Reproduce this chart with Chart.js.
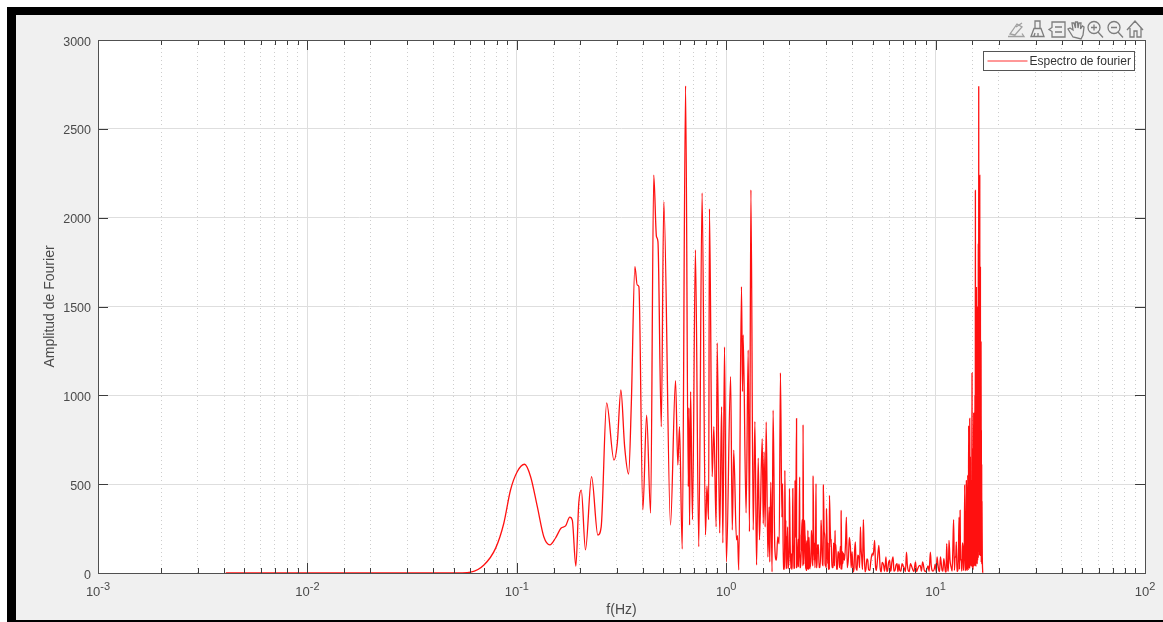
<!DOCTYPE html>
<html>
<head>
<meta charset="utf-8">
<style>
html,body{margin:0;padding:0;width:1163px;height:622px;overflow:hidden;background:#fff}
#frame{position:absolute;left:7px;top:7px;right:0;bottom:0;background:#000}
#panel{position:absolute;left:9px;top:8px;right:0;bottom:2px;background:#f0f0f0}
#wrap{position:absolute;left:0;top:0;width:1163px;height:622px}
#tools{position:absolute;left:0;top:0;pointer-events:none}
</style>
<script src="https://cdn.jsdelivr.net/npm/chart.js@4/dist/chart.umd.js"></script>
</head>
<body>
<div id="frame"><div id="panel"></div></div>
<div id="wrap"><canvas id="c" width="1163" height="622"></canvas></div>
<svg id="tools" width="1163" height="622" fill="none" stroke="#7d7d7d" stroke-width="1.300">
  <g stroke="#a0a0a0"><path d="M1010 34 l7 -10 l5 3 l-7 8 z M1016 27 l6 -4 M1008 36.500 h16 l-2 -3"/></g>
  <path d="M1031 36.500 l3 -8 h7 l3 8 z M1035 28 v-7 h5 v7 M1035 33 l-1 3 M1038 33 v3"/>
  <path d="M1052 22 h13 v15 h-13 v-5.500 l-3 -2 l3 -2 z M1055 27 h7 M1055 32 h7"/>
  <path d="M1073 37 l-5 -8 l2 -1 l3 2 l-1 -7 l2 0 l1.500 5 l0 -6 h2 l0.500 6 l1 -5 l2 0 l-0.500 6 l2 -3 l1.500 1 l-1 8 l-2 4 z"/>
  <circle cx="1094" cy="27.500" r="6"/><path d="M1098 32 l5 5.500 M1091 27.500 h6 M1094 24.500 v6"/>
  <circle cx="1114" cy="27.500" r="6"/><path d="M1118 32 l5 5.500 M1111 27.500 h6"/>
  <path d="M1127 30 l8 -9 l8 9 M1130 28 v9 h4 v-6 h3 v6 h4 v-9"/>
</svg>
<script>
const seriesLabel = 'Espectro de fourier';
const xTitle = 'f(Hz)';
const yTitle = 'Amplitud de Fourier';
const yTickValues = [0, 500, 1000, 1500, 2000, 2500, 3000];
const xDecades = [0.001, 0.01, 0.1, 1, 10, 100];
const xDecadeExponents = ['-3', '-2', '-1', '0', '1', '2'];

// log10 of the frequency in Hz and Fourier amplitude: main peaks and dips
const logFreqHz = [
-2.39,-2.0,-1.6,-1.35,-1.268,-1.22,-1.157,-1.101,-1.062,-1.03,-0.998,-0.963,-0.934,-0.902,-0.871,-0.842,-0.815,-0.788,-0.767,-0.747,-0.735,-0.718,-0.704,-0.692,-0.672,-0.643,-0.613,-0.597,-0.571,-0.536,-0.520,-0.503,-0.485,-0.466,-0.453,-0.436,-0.425,-0.417,-0.398,-0.380,-0.361,-0.346,-0.333,-0.326,-0.310,-0.298,-0.266,-0.242,-0.231,-0.223,-0.210,-0.194,-0.181,-0.178,-0.175,-0.170,-0.161,-0.147,-0.131,-0.115,-0.099,-0.092,-0.084,-0.080,-0.067,-0.059,-0.048,-0.043,-0.031,-0.022,-0.016,-0.008,0.001,0.021,0.029,0.036,0.049,0.054,0.060,0.073,0.078,0.081,0.095,0.105,0.111,0.118,0.129,0.137,0.145,0.153,0.159,
0.172,0.177,0.181,0.186,0.191,0.199,0.205,0.208,0.213,0.219,0.224,0.232,0.240,0.246,0.253,0.259,0.266,0.269,0.280,0.285,0.291,0.302,0.310,0.318,0.323,0.329,0.336,0.345,0.351,0.359,0.367,0.374,0.378,0.383,0.390,0.394,0.399,0.407,0.415,0.421,0.429,0.437,0.445,0.453,0.464,0.472,0.479,0.485,0.493,0.501,0.510,0.520,0.530,0.538,0.549,0.557,0.565,0.574,0.584,0.593,0.606,0.617,0.625,0.633,0.641,0.647,0.655,0.663,0.676,0.686,0.697,0.709,0.717,0.729,0.740,0.752,0.763,0.771,0.781,0.787,0.797,0.806,0.816,0.829,0.840,0.851,0.861,0.869,0.880,0.892,0.904,0.915,0.927,0.938,0.946,0.959,0.975,0.983,0.994,1.007,1.015,1.023,1.031,1.039,1.047,1.053,1.059,1.064,1.074,1.086,1.093,1.099,1.106,1.112,1.117,1.122,1.131,1.136,1.139,
1.144,1.147,1.150,1.153,1.156,1.158,1.160,1.163,1.165,1.166,1.168,1.169,1.171,1.174,1.176,1.177,1.179,1.180,1.182,1.184,1.185,1.187,1.188,1.190,1.191,1.193,1.195,1.196,1.198,1.200,1.201,1.203,1.204,1.206,1.207,1.209,1.211,1.212,1.214,1.215,1.217,1.219,1.220,1.222,1.223,1.225];

const amplitude = [
0,0,0,0,1,5,45,140,280,467,570,612,542,373,204,158,197,253,265,315,298,39,394,467,130,542,214,260,957,636,732,1030,711,557,957,1725,1621,1612,355,889,337,2240,1893,1865,824,2090,270,1083,608,824,135,2742,486,930,270,1021,300,1818,148,2139,214,490,300,2050,542,824,260,1295,225,936,169,1272,63,1105,242,692,186,210,17,1612,1021,1340,338,1255,233,2156,242,852,45,647,186,
756,278,681,259,850,90,372,62,512,6,916,147,72,203,165,1126,315,503,578,297,90,475,109,475,90,522,869,34,541,128,835,297,147,15,240,72,25,240,546,72,503,109,53,297,497,53,362,53,437,147,34,240,53,109,353,53,72,315,90,147,6,175,15,90,259,90,300,6,72,15,109,184,15,156,6,43,90,15,72,15,90,15,53,15,53,25,118,15,53,15,62,25,43,62,15,25,118,15,25,90,15,90,15,81,6,165,15,184,34,300,90,175,15,315,353,72,147,15,494,
60,520,100,550,200,830,120,870,300,650,80,520,150,1126,250,700,60,640,900,180,820,340,1000,2153,300,1600,1610,150,1270,400,1500,200,1850,2739,500,1900,2238,300,1720,250,1300,170,607,300,100,2];

// the tight fine structure between those peaks, read as an estimate from the dense band
const fineLogFreqHz = [
.272,.276,.283,.288,.293,.297,.305,.313,.320,.326,.332,.340,.348,.355,.363,.370,.376,.381,.386,.392,.396,.402,.410,.412,.418,.424,.427,.433,.440,.448,.456,.460,.468,.475,.482,.488,.497,.505,
.513,.517,.524,.527,.534,.541,.545,.552,.560,.570,.578,.588,.597,.601,.610,.613,.620,.628,.637,.644,.651,.659,.667,.672,.680,.690,.702,.713,.722,.735,.745,
.756,.760,.767,.775,.784,.791,.801,.811,.820,.825,.834,.845,.856,.865,.874,.885,.897,.900,.909,.921,.932,.942,.952,.964,.969,.979,.988,.998,1.003,1.011,1.019,1.027,1.035,1.043,1.050,1.056,1.061,1.069,1.079,1.082,1.090,1.096,1.102,1.109,1.114,1.119,1.125,1.128,1.133,
1.1415,1.1425,1.145,1.1455,1.1485,1.1495,1.1515,1.152,1.1545,1.155,1.157,1.159,1.1615,1.1625,1.1645,1.1675,1.170,1.1725,1.173,1.175,1.178,1.1785,1.181,1.183,1.1835,1.186,1.1865,1.1895,1.1905,1.192,1.194,1.1945,1.197,1.1985,1.199,1.2005,1.2025,1.2035,1.205,1.2065,1.208,1.210,1.2105,1.2125,1.213,1.2145,1.216,1.218,1.2185,1.2205,1.2215,
.2745,.2795,.2855,.2905,.2955,.3015,.309,.3165,.3235,.3295,.336,.344,.3515,.359,.3665,.373,.3785,.3835,.389,.3945,.399,.406,.4145,.421,.4305,.4365,.444,.452,.4635,.4715,.4785,.4855,.4925,.501,.509,.5205,.5305,.5375,.5485,.5565,
1.1665,1.1682,1.1695,1.1712,1.1742,1.1757,1.1775,1.1795,1.1808,1.1825,1.1845,1.1858,1.1878,1.1885,1.1898,1.1915,1.1925,1.1935,1.1955,1.1965,1.1975,1.1995,1.2012,1.2018,1.2042,1.2055,1.2072,1.2078,1.2095,1.2115,1.2135,1.2155,1.2175,1.2195,1.2202];

const fineAmplitude = [
150,20,230,30,260,40,200,20,180,30,240,60,220,30,300,50,220,30,180,20,200,40,170,60,200,30,210,30,160,30,200,50,230,40,180,20,240,30,
170,40,160,20,120,30,150,20,110,170,30,200,30,120,20,120,30,100,30,140,20,120,20,80,20,60,100,40,70,30,60,
10,50,8,55,10,60,10,45,8,50,10,40,8,45,8,40,8,35,8,40,10,45,8,40,8,45,10,50,10,50,8,55,10,50,8,60,10,70,10,120,15,90,8,120,20,80,10,170,20,
150,12,260,20,300,15,320,30,400,20,380,30,420,25,450,40,500,60,600,30,500,20,650,40,700,40,800,60,1100,40,900,60,1000,50,1200,70,1300,90,1500,120,1700,100,1600,120,1500,100,1100,60,800,50,400,
25,190,25,210,25,190,25,170,25,200,30,190,30,210,40,180,25,150,20,170,30,160,40,170,30,160,30,170,40,190,30,170,25,190,30,140,20,110,20,120,
480,70,430,40,620,50,450,40,700,60,560,50,850,70,1200,60,1100,80,1300,70,1150,100,1350,90,1500,150,1800,130,1700,150,1400,120,1000,80,450];

const points = logFreqHz.map((lf, i) => ({x: Math.pow(10, lf), y: amplitude[i]}))
  .concat(fineLogFreqHz.map((lf, i) => ({x: Math.pow(10, lf), y: fineAmplitude[i]})))
  .sort((a, b) => a.x - b.x);
const isDecade = v => xDecades.some(d => Math.abs(v - d) < d * 1e-6);

const textColor = '#4a4a4a';
const fontFamily = '"Liberation Sans", Arial, sans-serif';

const frameTicks = {
  id: 'frameTicks',
  afterDatasetsDraw(chart) {
    const {ctx, chartArea: a, scales: {x, y}} = chart;
    ctx.save();
    ctx.strokeStyle = '#3c3c3c';
    ctx.lineWidth = 1;
    ctx.beginPath();
    x.ticks.forEach(t => {
      const px = Math.round(x.getPixelForValue(t.value)) + 0.5;
      const len = isDecade(t.value) ? 10 : 5;
      ctx.moveTo(px, a.bottom); ctx.lineTo(px, a.bottom - len);
      ctx.moveTo(px, a.top); ctx.lineTo(px, a.top + len);
    });
    y.ticks.forEach(t => {
      const py = Math.round(y.getPixelForValue(t.value)) + 0.5;
      ctx.moveTo(a.left, py); ctx.lineTo(a.left + 10, py);
      ctx.moveTo(a.right, py); ctx.lineTo(a.right - 10, py);
    });
    ctx.stroke();
    ctx.strokeStyle = '#505050';
    ctx.strokeRect(a.left + 0.5, a.top + 0.5, a.right - a.left, a.bottom - a.top);

    // tick labels, placed through the scales
    ctx.fillStyle = textColor;
    ctx.textBaseline = 'alphabetic';
    xDecades.forEach((d, i) => {
      const px = x.getPixelForValue(d);
      const exp = xDecadeExponents[i];
      ctx.font = '13px ' + fontFamily;
      const wBase = ctx.measureText('10').width;
      ctx.font = '11px ' + fontFamily;
      const wExp = ctx.measureText(exp).width;
      const x0 = px - (wBase + wExp) / 2;
      ctx.font = '13px ' + fontFamily;
      ctx.textAlign = 'left';
      ctx.fillText('10', x0, a.bottom + 23);
      ctx.font = '11px ' + fontFamily;
      ctx.fillText(exp, x0 + wBase, a.bottom + 17);
    });
    ctx.textAlign = 'right';
    ctx.font = '12.5px ' + fontFamily;
    yTickValues.forEach(v => {
      ctx.fillText(String(v), a.left - 7, y.getPixelForValue(v) + 5.5);
    });

    // legend box
    const w = 151, h = 19, lx = a.right - 161.500, ly = a.top + 11.500;
    ctx.fillStyle = '#fff';
    ctx.fillRect(lx, ly, w, h);
    ctx.strokeStyle = '#555';
    ctx.strokeRect(lx, ly, w, h);
    ctx.strokeStyle = '#ff3030';
    ctx.beginPath();
    ctx.moveTo(lx + 4, ly + 9.5); ctx.lineTo(lx + 44, ly + 9.5);
    ctx.stroke();
    ctx.fillStyle = '#333';
    ctx.font = '12px ' + fontFamily;
    ctx.textAlign = 'left';
    ctx.textBaseline = 'middle';
    ctx.fillText(seriesLabel, lx + 46, ly + 10);
    ctx.restore();
  }
};

const plotBackground = {
  id: 'plotBackground',
  beforeDraw(chart) {
    const {ctx, chartArea: a} = chart;
    ctx.save();
    ctx.fillStyle = '#fff';
    ctx.fillRect(a.left, a.top, a.right - a.left, a.bottom - a.top);
    ctx.restore();
  }
};

new Chart(document.getElementById('c'), {
  type: 'line',
  data: {datasets: [{
    label: seriesLabel,
    data: points,
    borderColor: '#ff1010',
    borderWidth: 1.3,
    pointRadius: 0,
    cubicInterpolationMode: 'monotone',
    fill: false
  }]},
  plugins: [plotBackground, frameTicks],
  options: {
    responsive: false,
    animation: false,
    parsing: false,
    normalized: true,
    layout: {padding: {top: 40, right: 18, left: 0, bottom: 0}},
    plugins: {legend: {display: false}, tooltip: {enabled: false}, decimation: {enabled: false}},
    scales: {
      x: {
        type: 'logarithmic',
        min: 0.001,
        max: 100,
        afterFit(s) { s.height = 49; },
        grid: {
          drawTicks: false,
          color: c => (c.tick && isDecade(c.tick.value)) ? '#dedede' : '#cdcdcd'
        },
        border: {
          display: false,
          dash: c => (c.tick && !isDecade(c.tick.value)) ? [1, 3] : []
        },
        ticks: {display: false, autoSkip: false, maxRotation: 0},
        title: {display: true, text: xTitle, color: textColor, padding: {top: 0, bottom: 3},
                font: {family: fontFamily, size: 14}}
      },
      y: {
        min: 0,
        max: 3000,
        afterFit(s) { s.width = 98; },
        afterBuildTicks(s) { s.ticks = yTickValues.map(v => ({value: v})); },
        grid: {drawTicks: false, color: '#dedede'},
        border: {display: false},
        ticks: {display: false},
        title: {display: true, text: yTitle, color: textColor, padding: {top: 42, bottom: 0},
                font: {family: fontFamily, size: 14}}
      }
    }
  }
});
</script>
</body>
</html>
